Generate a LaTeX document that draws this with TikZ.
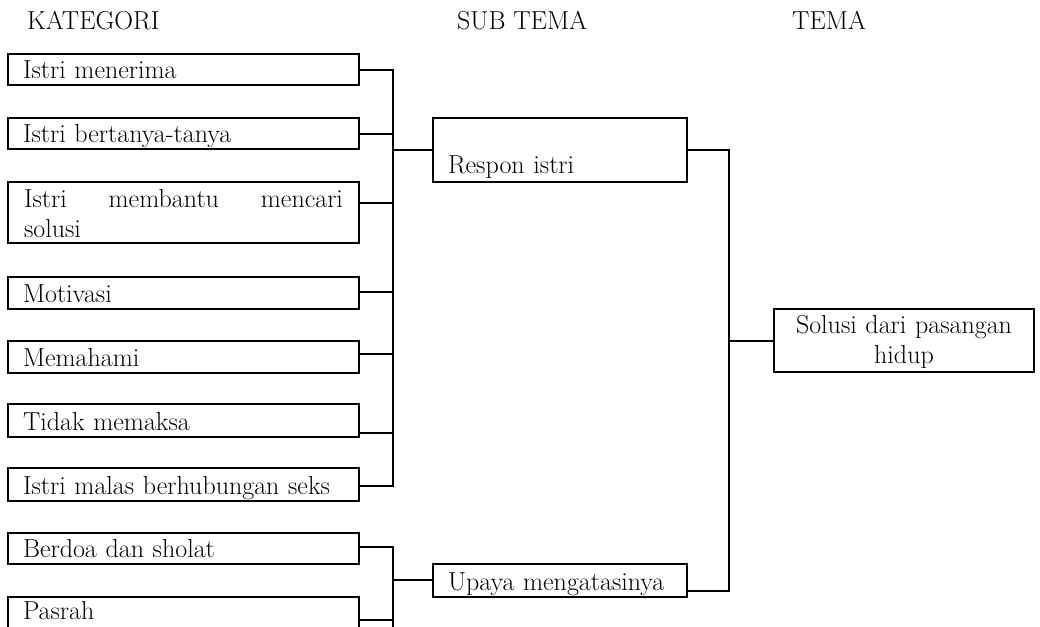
\documentclass[tikz,border=0pt]{standalone}
\usetikzlibrary{calc}
\begin{document}
\begin{tikzpicture}[x=1pt,y=-1pt,
  txt/.style={font=\fontsize{26}{30}\selectfont},
  box/.style={txt,draw,line width=1.8pt,rectangle,anchor=north west,outer sep=0pt,
              inner xsep=15pt,inner ysep=0pt,text depth=7pt,align=left},
  kat/.style={box,text width=321pt},
  sub/.style={box,text width=224pt},
  link/.style={line width=1.3pt},
  head/.style={txt,anchor=base west,inner sep=0pt}]
\useasboundingbox (0,0) rectangle (1040,626);

% column headings
\node[head] (hk) at (27,30)  {KATEGORI};
\node[head] (hs) at (457,30) {SUB TEMA};
\node[head] (ht) at (792,30) {TEMA};

% categories
\node[kat,text height=24pt] (k1) at (8,54)  {Istri menerima};
\node[kat,text height=24pt] (k2) at (8,118) {Istri bertanya-tanya};
\node[kat,text height=25pt,text depth=36pt,text width=319pt,minimum width=351pt,align=justify]
      (k3) at (8,182) {Istri membantu mencari\linebreak solusi};
\node[kat,text height=25pt] (k4) at (8,277) {Motivasi};
\node[kat,text height=25pt] (k5) at (8,341) {Memahami};
\node[kat,text height=26pt] (k6) at (8,404) {Tidak memaksa};
\node[kat,text height=26pt] (k7) at (8,468) {Istri malas berhubungan seks};
\node[kat,text height=24pt] (k8) at (8,533) {Berdoa dan sholat};
\node[kat,text height=22pt,text depth=11pt] (k9) at (8,597) {Pasrah};

% sub-themes
\node[sub,text height=55pt,text depth=9pt] (respon) at (433,118) {Respon istri};
\node[sub,text height=26pt] (upaya) at (433,564) {Upaya mengatasinya};

% theme
\node[box,text width=230pt,align=center,text height=24pt,text depth=39pt]
      (solusi) at (774,309) {Solusi dari pasangan\\hidup};

% junctions of the brackets
\coordinate (j1) at (393,150);
\coordinate (j2) at (393,580);
\coordinate (j3) at (729,341);
\coordinate (busend) at (393,640);

% first bracket
\draw[link] ($(k1.north east)+(0,16)$) -| (j1);
\draw[link] ($(k2.north east)+(0,16)$) -| (j1);
\draw[link] ($(k3.north east)+(0,21)$) -| (j1);
\draw[link] ($(k4.north east)+(0,15)$) -| (j1);
\draw[link] ($(k5.north east)+(0,13)$) -| (j1);
\draw[link] ($(k6.north east)+(0,29)$) -| (j1);
\draw[link] ($(k7.north east)+(0,18)$) -| (j1);
\draw[link] (j1) -- (j1 -| respon.west);

% second bracket
\draw[link] ($(k8.north east)+(0,14)$) -| (j2);
\draw[link] ($(k9.north east)+(0,23)$) -| (j2);
\draw[link] (j2) -- (busend);
\draw[link] (j2) -- (j2 -| upaya.west);

% theme bracket
\draw[link] (respon.east) -| (j3);
\draw[link] ($(upaya.north east)+(0,27)$) -| (j3);
\draw[link] (j3) -- (j3 -| solusi.west);
\end{tikzpicture}
\end{document}
